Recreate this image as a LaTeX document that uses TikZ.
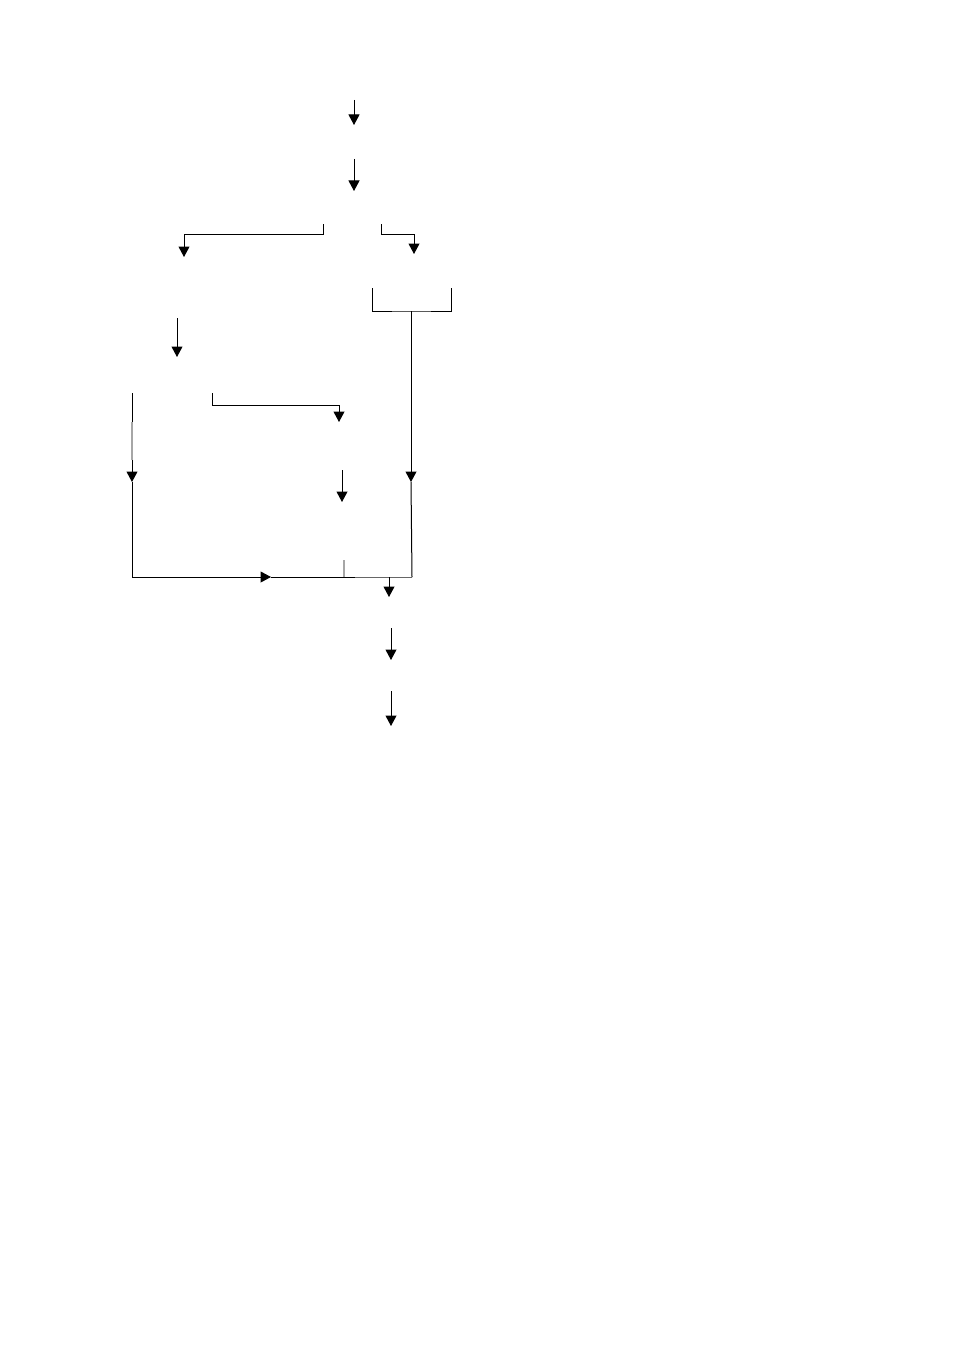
\documentclass[tikz,border=0pt]{standalone}
\usetikzlibrary{arrows.meta}
\begin{document}
\begin{tikzpicture}[x=1pt,y=-1pt,
  conn/.style={line width=1pt,black},
  arr/.style={conn,-{Triangle[width=11pt,length=10.5pt]}},
  faint/.style={line width=1.2pt,gray!70},
  faintdark/.style={line width=1pt,black!60}]
\useasboundingbox[fill=white] (0,0) rectangle (954,1351);
% named points
\coordinate (a1s) at (354,100); \coordinate (a1e) at (354,125);
\coordinate (a2s) at (354,159); \coordinate (a2e) at (354,191);
\coordinate (lbS) at (323,224); \coordinate (lbE) at (184,257);
\coordinate (rbS) at (381,224); \coordinate (rbE) at (414,254);
\coordinate (brL) at (372,288); \coordinate (brR) at (451,288);
\coordinate (brM) at (411,311); \coordinate (brT) at (411,482);
\coordinate (a3s) at (177,318); \coordinate (a3e) at (177,357);
\coordinate (lcS) at (132,393); \coordinate (lcT) at (132,482);
\coordinate (mbS) at (212,393); \coordinate (mbE) at (339,422);
\coordinate (a4s) at (342,470); \coordinate (a4e) at (342,502);
\coordinate (bl) at (132,577); \coordinate (bmid) at (271,577);
\coordinate (bj) at (355,577); \coordinate (br) at (412,577);
\coordinate (tk) at (344,560); \coordinate (tkb) at (344,577);
\coordinate (dS) at (389,577); \coordinate (dE) at (389,597);
\coordinate (a5s) at (391,628); \coordinate (a5e) at (391,660);
\coordinate (a6s) at (391,691); \coordinate (a6e) at (391,726);
% simple arrows
\draw[arr] (a1s) -- (a1e);
\draw[arr] (a2s) -- (a2e);
\draw[arr] (a3s) -- (a3e);
\draw[arr] (a4s) -- (a4e);
\draw[arr] (a5s) -- (a5e);
\draw[arr] (a6s) -- (a6e);
% branches
\draw[arr] (lbS) |- (184,234) -- (lbE);
\draw[arr] (rbS) |- (414,234) -- (rbE);
\draw[conn] (brL) |- (brM) -| (brR);
\draw[arr] (brM) -- (brT);
\draw[arr] (mbS) |- (339,405) -- (mbE);
% left loop
\draw[arr] (lcS) -- (lcT);
\draw[faint] (132,422) -- (132,460);
\draw[conn] (lcT) -- (bl);
\draw[arr] (bl) -- (bmid);
\draw[conn] (bmid) -- (bj);
\draw[faintdark] (bj) -- (br);
\draw[conn] (brT) -- (br);
\draw[faint] (tk) -- (tkb);
\draw[arr] (dS) -- (dE);
\end{tikzpicture}
\end{document}
